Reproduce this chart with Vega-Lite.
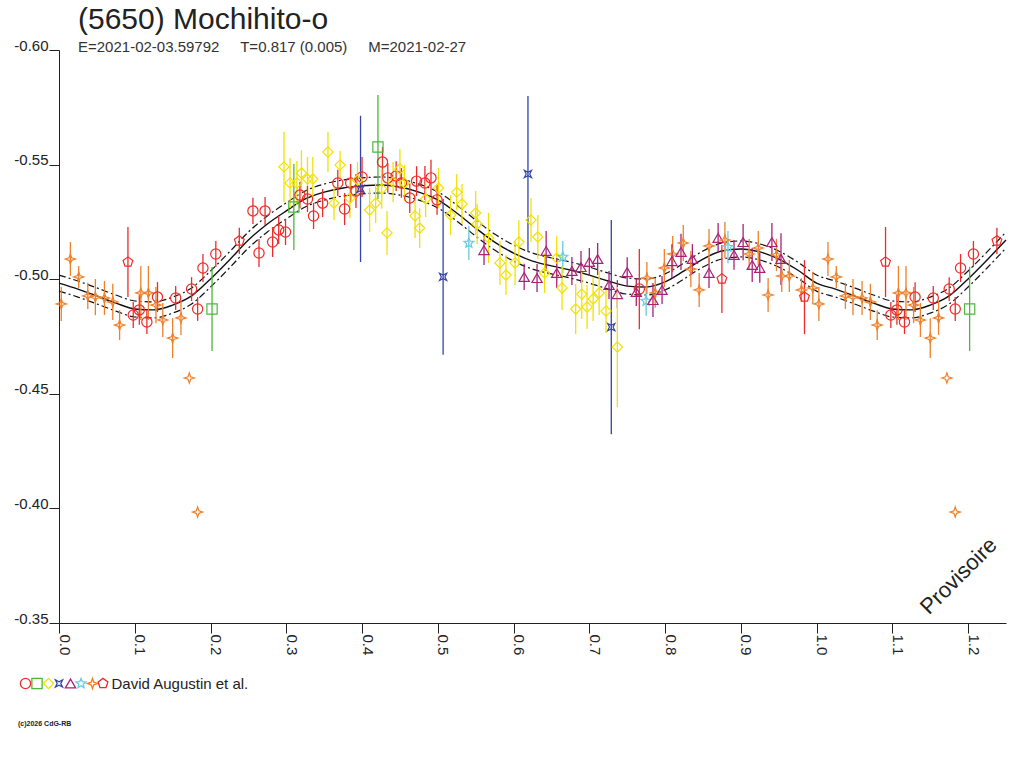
{
  "$schema": "https://vega.github.io/schema/vega-lite/v6.json",
  "width": 947,
  "height": 573,
  "autosize": {"type": "none"},
  "padding": {"left": 59, "top": 50, "right": 18, "bottom": 145},
  "background": "white",
  "title": {
    "text": "(5650) Mochihito-o",
    "subtitle": "E=2021-02-03.59792\u00a0\u00a0\u00a0\u00a0\u00a0T=0.817 (0.005)\u00a0\u00a0\u00a0\u00a0\u00a0M=2021-02-27",
    "anchor": "start",
    "frame": "group",
    "dx": 19,
    "offset": -17,
    "font": "Liberation Sans",
    "fontSize": 30,
    "fontWeight": "normal",
    "color": "#222222",
    "subtitleFont": "Liberation Sans",
    "subtitleFontSize": 15,
    "subtitleColor": "#333333",
    "subtitlePadding": 5
  },
  "config": {
    "view": {"stroke": null},
    "axis": {"grid": false}
  },
  "datasets": {
    "fit": [
      {"p": 0.000, "c": -0.4983, "u": -0.5018, "l": -0.4948},
      {"p": 0.025, "c": -0.4957, "u": -0.4992, "l": -0.4922},
      {"p": 0.050, "c": -0.4927, "u": -0.4962, "l": -0.4892},
      {"p": 0.075, "c": -0.4896, "u": -0.4931, "l": -0.4861},
      {"p": 0.100, "c": -0.4870, "u": -0.4905, "l": -0.4835},
      {"p": 0.125, "c": -0.4866, "u": -0.4901, "l": -0.4831},
      {"p": 0.150, "c": -0.4887, "u": -0.4922, "l": -0.4852},
      {"p": 0.175, "c": -0.4927, "u": -0.4962, "l": -0.4892},
      {"p": 0.200, "c": -0.5001, "u": -0.5036, "l": -0.4966},
      {"p": 0.225, "c": -0.5084, "u": -0.5119, "l": -0.5049},
      {"p": 0.250, "c": -0.5171, "u": -0.5206, "l": -0.5136},
      {"p": 0.275, "c": -0.5241, "u": -0.5276, "l": -0.5206},
      {"p": 0.300, "c": -0.5298, "u": -0.5333, "l": -0.5263},
      {"p": 0.325, "c": -0.5350, "u": -0.5385, "l": -0.5315},
      {"p": 0.350, "c": -0.5380, "u": -0.5415, "l": -0.5345},
      {"p": 0.375, "c": -0.5398, "u": -0.5433, "l": -0.5363},
      {"p": 0.400, "c": -0.5407, "u": -0.5442, "l": -0.5372},
      {"p": 0.425, "c": -0.5411, "u": -0.5446, "l": -0.5376},
      {"p": 0.450, "c": -0.5402, "u": -0.5437, "l": -0.5367},
      {"p": 0.475, "c": -0.5380, "u": -0.5415, "l": -0.5345},
      {"p": 0.500, "c": -0.5346, "u": -0.5381, "l": -0.5311},
      {"p": 0.525, "c": -0.5289, "u": -0.5324, "l": -0.5254},
      {"p": 0.550, "c": -0.5223, "u": -0.5258, "l": -0.5188},
      {"p": 0.575, "c": -0.5162, "u": -0.5197, "l": -0.5127},
      {"p": 0.600, "c": -0.5114, "u": -0.5149, "l": -0.5079},
      {"p": 0.625, "c": -0.5079, "u": -0.5114, "l": -0.5044},
      {"p": 0.650, "c": -0.5058, "u": -0.5093, "l": -0.5023},
      {"p": 0.675, "c": -0.5040, "u": -0.5075, "l": -0.5005},
      {"p": 0.700, "c": -0.5018, "u": -0.5053, "l": -0.4983},
      {"p": 0.725, "c": -0.4992, "u": -0.5027, "l": -0.4957},
      {"p": 0.750, "c": -0.4970, "u": -0.5005, "l": -0.4935},
      {"p": 0.775, "c": -0.4966, "u": -0.5001, "l": -0.4931},
      {"p": 0.800, "c": -0.4988, "u": -0.5023, "l": -0.4953},
      {"p": 0.825, "c": -0.5036, "u": -0.5071, "l": -0.5001},
      {"p": 0.850, "c": -0.5088, "u": -0.5123, "l": -0.5053},
      {"p": 0.875, "c": -0.5123, "u": -0.5158, "l": -0.5088},
      {"p": 0.900, "c": -0.5132, "u": -0.5167, "l": -0.5097},
      {"p": 0.925, "c": -0.5119, "u": -0.5154, "l": -0.5084},
      {"p": 0.950, "c": -0.5088, "u": -0.5123, "l": -0.5053},
      {"p": 0.975, "c": -0.5040, "u": -0.5075, "l": -0.5005},
      {"p": 1.000, "c": -0.4983, "u": -0.5018, "l": -0.4948},
      {"p": 1.025, "c": -0.4957, "u": -0.4992, "l": -0.4922},
      {"p": 1.050, "c": -0.4927, "u": -0.4962, "l": -0.4892},
      {"p": 1.075, "c": -0.4896, "u": -0.4931, "l": -0.4861},
      {"p": 1.100, "c": -0.4870, "u": -0.4905, "l": -0.4835},
      {"p": 1.125, "c": -0.4866, "u": -0.4901, "l": -0.4831},
      {"p": 1.150, "c": -0.4887, "u": -0.4922, "l": -0.4852},
      {"p": 1.175, "c": -0.4927, "u": -0.4962, "l": -0.4892},
      {"p": 1.200, "c": -0.5001, "u": -0.5036, "l": -0.4966},
      {"p": 1.225, "c": -0.5084, "u": -0.5119, "l": -0.5049},
      {"p": 1.250, "c": -0.5171, "u": -0.5206, "l": -0.5136}
    ],
    "obs": [
      {"p": 0.003, "m": -0.4892, "e": 0.0074, "s": "g"},
      {"p": 0.015, "m": -0.5088, "e": 0.0074, "s": "g"},
      {"p": 0.026, "m": -0.5010, "e": 0.0048, "s": "g"},
      {"p": 0.038, "m": -0.4927, "e": 0.0057, "s": "g"},
      {"p": 0.048, "m": -0.4922, "e": 0.0079, "s": "g"},
      {"p": 0.060, "m": -0.4918, "e": 0.0074, "s": "g"},
      {"p": 0.071, "m": -0.4901, "e": 0.0079, "s": "g"},
      {"p": 0.091, "m": -0.5075, "e": 0.0153, "s": "h"},
      {"p": 0.080, "m": -0.4800, "e": 0.0065, "s": "g"},
      {"p": 0.098, "m": -0.4844, "e": 0.0057, "s": "a"},
      {"p": 0.108, "m": -0.4940, "e": 0.0118, "s": "g"},
      {"p": 0.106, "m": -0.4866, "e": 0.0065, "s": "a"},
      {"p": 0.116, "m": -0.4813, "e": 0.0052, "s": "a"},
      {"p": 0.118, "m": -0.4940, "e": 0.0118, "s": "g"},
      {"p": 0.130, "m": -0.4922, "e": 0.0065, "s": "a"},
      {"p": 0.128, "m": -0.4887, "e": 0.0079, "s": "g"},
      {"p": 0.137, "m": -0.4822, "e": 0.0074, "s": "g"},
      {"p": 0.154, "m": -0.4918, "e": 0.0052, "s": "a"},
      {"p": 0.150, "m": -0.4743, "e": 0.0087, "s": "g"},
      {"p": 0.161, "m": -0.4831, "e": 0.0074, "s": "g"},
      {"p": 0.175, "m": -0.4957, "e": 0.0052, "s": "a"},
      {"p": 0.183, "m": -0.4870, "e": 0.0052, "s": "a"},
      {"p": 0.190, "m": -0.5049, "e": 0.0061, "s": "a"},
      {"p": 0.202, "m": -0.4870, "e": 0.0183, "s": "b"},
      {"p": 0.207, "m": -0.5110, "e": 0.0057, "s": "a"},
      {"p": 0.172, "m": -0.4569, "e": 0, "s": "g"},
      {"p": 0.183, "m": -0.3984, "e": 0, "s": "g"},
      {"p": 0.238, "m": -0.5167, "e": 0.0057, "s": "h"},
      {"p": 1.003, "m": -0.4892, "e": 0.0074, "s": "g"},
      {"p": 1.015, "m": -0.5088, "e": 0.0074, "s": "g"},
      {"p": 1.026, "m": -0.5010, "e": 0.0048, "s": "g"},
      {"p": 1.038, "m": -0.4927, "e": 0.0057, "s": "g"},
      {"p": 1.048, "m": -0.4922, "e": 0.0079, "s": "g"},
      {"p": 1.060, "m": -0.4918, "e": 0.0074, "s": "g"},
      {"p": 1.071, "m": -0.4901, "e": 0.0079, "s": "g"},
      {"p": 1.091, "m": -0.5075, "e": 0.0153, "s": "h"},
      {"p": 1.080, "m": -0.4800, "e": 0.0065, "s": "g"},
      {"p": 1.098, "m": -0.4844, "e": 0.0057, "s": "a"},
      {"p": 1.108, "m": -0.4940, "e": 0.0118, "s": "g"},
      {"p": 1.106, "m": -0.4866, "e": 0.0065, "s": "a"},
      {"p": 1.116, "m": -0.4813, "e": 0.0052, "s": "a"},
      {"p": 1.118, "m": -0.4940, "e": 0.0118, "s": "g"},
      {"p": 1.130, "m": -0.4922, "e": 0.0065, "s": "a"},
      {"p": 1.128, "m": -0.4887, "e": 0.0079, "s": "g"},
      {"p": 1.137, "m": -0.4822, "e": 0.0074, "s": "g"},
      {"p": 1.154, "m": -0.4918, "e": 0.0052, "s": "a"},
      {"p": 1.150, "m": -0.4743, "e": 0.0087, "s": "g"},
      {"p": 1.161, "m": -0.4831, "e": 0.0074, "s": "g"},
      {"p": 1.175, "m": -0.4957, "e": 0.0052, "s": "a"},
      {"p": 1.183, "m": -0.4870, "e": 0.0052, "s": "a"},
      {"p": 1.190, "m": -0.5049, "e": 0.0061, "s": "a"},
      {"p": 1.202, "m": -0.4870, "e": 0.0183, "s": "b"},
      {"p": 1.207, "m": -0.5110, "e": 0.0057, "s": "a"},
      {"p": 1.172, "m": -0.4569, "e": 0, "s": "g"},
      {"p": 1.183, "m": -0.3984, "e": 0, "s": "g"},
      {"p": 1.238, "m": -0.5167, "e": 0.0057, "s": "h"},
      {"p": 0.256, "m": -0.5298, "e": 0.0057, "s": "a"},
      {"p": 0.272, "m": -0.5298, "e": 0.0061, "s": "a"},
      {"p": 0.264, "m": -0.5114, "e": 0.0061, "s": "a"},
      {"p": 0.282, "m": -0.5162, "e": 0.0065, "s": "a"},
      {"p": 0.290, "m": -0.5215, "e": 0.0061, "s": "a"},
      {"p": 0.299, "m": -0.5206, "e": 0.0057, "s": "a"},
      {"p": 0.297, "m": -0.5490, "e": 0.0153, "s": "c"},
      {"p": 0.305, "m": -0.5420, "e": 0.0109, "s": "c"},
      {"p": 0.310, "m": -0.5315, "e": 0.0188, "s": "b"},
      {"p": 0.314, "m": -0.5420, "e": 0.0096, "s": "c"},
      {"p": 0.320, "m": -0.5463, "e": 0.0100, "s": "c"},
      {"p": 0.328, "m": -0.5437, "e": 0.0096, "s": "c"},
      {"p": 0.335, "m": -0.5437, "e": 0.0096, "s": "c"},
      {"p": 0.318, "m": -0.5367, "e": 0.0057, "s": "a"},
      {"p": 0.328, "m": -0.5350, "e": 0.0057, "s": "a"},
      {"p": 0.336, "m": -0.5276, "e": 0.0057, "s": "a"},
      {"p": 0.348, "m": -0.5332, "e": 0.0061, "s": "a"},
      {"p": 0.355, "m": -0.5555, "e": 0.0087, "s": "c"},
      {"p": 0.363, "m": -0.5332, "e": 0.0074, "s": "c"},
      {"p": 0.368, "m": -0.5420, "e": 0.0057, "s": "a"},
      {"p": 0.371, "m": -0.5498, "e": 0.0061, "s": "c"},
      {"p": 0.377, "m": -0.5306, "e": 0.0070, "s": "a"},
      {"p": 0.385, "m": -0.5420, "e": 0.0083, "s": "a"},
      {"p": 0.384, "m": -0.5354, "e": 0.0087, "s": "c"},
      {"p": 0.392, "m": -0.5385, "e": 0.0074, "s": "a"},
      {"p": 0.398, "m": -0.5394, "e": 0.0319, "s": "d"},
      {"p": 0.400, "m": -0.5446, "e": 0.0087, "s": "a"},
      {"p": 0.394, "m": -0.5433, "e": 0.0079, "s": "c"},
      {"p": 0.421, "m": -0.5577, "e": 0.0227, "s": "b"},
      {"p": 0.427, "m": -0.5511, "e": 0.0065, "s": "a"},
      {"p": 0.410, "m": -0.5302, "e": 0.0096, "s": "c"},
      {"p": 0.418, "m": -0.5332, "e": 0.0087, "s": "c"},
      {"p": 0.426, "m": -0.5394, "e": 0.0087, "s": "c"},
      {"p": 0.433, "m": -0.5202, "e": 0.0096, "s": "c"},
      {"p": 0.434, "m": -0.5442, "e": 0.0065, "s": "a"},
      {"p": 0.445, "m": -0.5450, "e": 0.0065, "s": "a"},
      {"p": 0.441, "m": -0.5424, "e": 0.0087, "s": "c"},
      {"p": 0.450, "m": -0.5481, "e": 0.0087, "s": "c"},
      {"p": 0.452, "m": -0.5420, "e": 0.0065, "s": "a"},
      {"p": 0.456, "m": -0.5420, "e": 0.0079, "s": "c"},
      {"p": 0.463, "m": -0.5354, "e": 0.0065, "s": "a"},
      {"p": 0.470, "m": -0.5276, "e": 0.0096, "s": "c"},
      {"p": 0.476, "m": -0.5223, "e": 0.0087, "s": "c"},
      {"p": 0.472, "m": -0.5428, "e": 0.0065, "s": "a"},
      {"p": 0.483, "m": -0.5420, "e": 0.0074, "s": "a"},
      {"p": 0.484, "m": -0.5350, "e": 0.0079, "s": "c"},
      {"p": 0.491, "m": -0.5442, "e": 0.0079, "s": "a"},
      {"p": 0.499, "m": -0.5346, "e": 0.0065, "s": "a"},
      {"p": 0.501, "m": -0.5398, "e": 0.0087, "s": "c"},
      {"p": 0.517, "m": -0.5280, "e": 0.0087, "s": "c"},
      {"p": 0.525, "m": -0.5380, "e": 0.0079, "s": "c"},
      {"p": 0.532, "m": -0.5328, "e": 0.0087, "s": "c"},
      {"p": 0.507, "m": -0.5010, "e": 0.0340, "s": "d"},
      {"p": 0.550, "m": -0.5289, "e": 0.0096, "s": "c"},
      {"p": 0.552, "m": -0.5241, "e": 0.0087, "s": "c"},
      {"p": 0.541, "m": -0.5158, "e": 0.0074, "s": "f"},
      {"p": 0.561, "m": -0.5127, "e": 0.0065, "s": "e"},
      {"p": 0.567, "m": -0.5180, "e": 0.0109, "s": "c"},
      {"p": 0.582, "m": -0.5071, "e": 0.0096, "s": "c"},
      {"p": 0.590, "m": -0.5018, "e": 0.0087, "s": "c"},
      {"p": 0.602, "m": -0.5071, "e": 0.0096, "s": "c"},
      {"p": 0.607, "m": -0.5162, "e": 0.0096, "s": "c"},
      {"p": 0.619, "m": -0.5459, "e": 0.0340, "s": "d"},
      {"p": 0.623, "m": -0.5258, "e": 0.0096, "s": "c"},
      {"p": 0.614, "m": -0.5010, "e": 0.0057, "s": "e"},
      {"p": 0.632, "m": -0.5184, "e": 0.0096, "s": "c"},
      {"p": 0.631, "m": -0.5005, "e": 0.0061, "s": "e"},
      {"p": 0.641, "m": -0.5027, "e": 0.0087, "s": "c"},
      {"p": 0.643, "m": -0.5123, "e": 0.0087, "s": "e"},
      {"p": 0.657, "m": -0.5092, "e": 0.0096, "s": "c"},
      {"p": 0.657, "m": -0.5027, "e": 0.0065, "s": "e"},
      {"p": 0.665, "m": -0.5097, "e": 0.0070, "s": "f"},
      {"p": 0.664, "m": -0.4962, "e": 0.0096, "s": "c"},
      {"p": 0.677, "m": -0.5036, "e": 0.0061, "s": "e"},
      {"p": 0.689, "m": -0.5053, "e": 0.0070, "s": "e"},
      {"p": 0.682, "m": -0.4870, "e": 0.0109, "s": "c"},
      {"p": 0.690, "m": -0.4935, "e": 0.0109, "s": "c"},
      {"p": 0.700, "m": -0.5075, "e": 0.0061, "s": "e"},
      {"p": 0.697, "m": -0.4879, "e": 0.0096, "s": "c"},
      {"p": 0.705, "m": -0.4914, "e": 0.0096, "s": "c"},
      {"p": 0.711, "m": -0.5088, "e": 0.0070, "s": "e"},
      {"p": 0.713, "m": -0.4940, "e": 0.0096, "s": "c"},
      {"p": 0.722, "m": -0.4861, "e": 0.0096, "s": "c"},
      {"p": 0.726, "m": -0.4975, "e": 0.0061, "s": "e"},
      {"p": 0.729, "m": -0.4791, "e": 0.0467, "s": "d"},
      {"p": 0.737, "m": -0.4935, "e": 0.0061, "s": "e"},
      {"p": 0.737, "m": -0.4704, "e": 0.0262, "s": "c"},
      {"p": 0.750, "m": -0.5031, "e": 0.0065, "s": "e"},
      {"p": 0.766, "m": -0.4957, "e": 0.0175, "s": "a"},
      {"p": 0.762, "m": -0.4944, "e": 0.0061, "s": "e"},
      {"p": 0.775, "m": -0.4905, "e": 0.0065, "s": "f"},
      {"p": 0.784, "m": -0.4909, "e": 0.0074, "s": "e"},
      {"p": 0.776, "m": -0.5005, "e": 0.0070, "s": "g"},
      {"p": 0.787, "m": -0.4940, "e": 0.0065, "s": "g"},
      {"p": 0.796, "m": -0.4953, "e": 0.0061, "s": "e"},
      {"p": 0.799, "m": -0.5049, "e": 0.0083, "s": "g"},
      {"p": 0.810, "m": -0.5110, "e": 0.0079, "s": "g"},
      {"p": 0.809, "m": -0.5079, "e": 0.0074, "s": "e"},
      {"p": 0.821, "m": -0.5119, "e": 0.0079, "s": "e"},
      {"p": 0.824, "m": -0.5158, "e": 0.0079, "s": "g"},
      {"p": 0.836, "m": -0.5088, "e": 0.0065, "s": "e"},
      {"p": 0.834, "m": -0.5044, "e": 0.0079, "s": "g"},
      {"p": 0.845, "m": -0.4953, "e": 0.0074, "s": "g"},
      {"p": 0.858, "m": -0.5027, "e": 0.0065, "s": "e"},
      {"p": 0.858, "m": -0.5145, "e": 0.0074, "s": "g"},
      {"p": 0.870, "m": -0.5180, "e": 0.0065, "s": "e"},
      {"p": 0.879, "m": -0.5171, "e": 0.0079, "s": "g"},
      {"p": 0.883, "m": -0.5140, "e": 0.0070, "s": "f"},
      {"p": 0.875, "m": -0.5001, "e": 0.0148, "s": "h"},
      {"p": 0.891, "m": -0.5106, "e": 0.0065, "s": "e"},
      {"p": 0.903, "m": -0.5162, "e": 0.0079, "s": "e"},
      {"p": 0.911, "m": -0.5110, "e": 0.0065, "s": "g"},
      {"p": 0.915, "m": -0.5062, "e": 0.0074, "s": "e"},
      {"p": 0.923, "m": -0.5136, "e": 0.0074, "s": "g"},
      {"p": 0.925, "m": -0.5049, "e": 0.0065, "s": "e"},
      {"p": 0.941, "m": -0.5162, "e": 0.0083, "s": "e"},
      {"p": 0.947, "m": -0.5106, "e": 0.0070, "s": "g"},
      {"p": 0.953, "m": -0.5088, "e": 0.0113, "s": "e"},
      {"p": 0.954, "m": -0.5014, "e": 0.0070, "s": "g"},
      {"p": 0.964, "m": -0.5014, "e": 0.0070, "s": "g"},
      {"p": 0.936, "m": -0.4931, "e": 0.0074, "s": "g"},
      {"p": 0.980, "m": -0.4953, "e": 0.0052, "s": "g"},
      {"p": 0.984, "m": -0.4922, "e": 0.0161, "s": "h"},
      {"p": 0.995, "m": -0.4962, "e": 0.0070, "s": "g"}
    ]
  },
  "layer": [
    {
      "data": {"name": "fit"},
      "mark": {"type": "line", "color": "#111111", "strokeWidth": 1.4, "interpolate": "monotone"},
      "encoding": {
        "x": {
          "field": "p", "type": "quantitative", "title": null,
          "scale": {"domain": [0, 1.25], "nice": false, "zero": false},
          "axis": {
            "values": [0, 0.05, 0.1, 0.15, 0.2, 0.25, 0.3, 0.35, 0.4, 0.45, 0.5, 0.55, 0.6, 0.65, 0.7, 0.75, 0.8, 0.85, 0.9, 0.95, 1.0, 1.05, 1.1, 1.15, 1.2, 1.25],
            "labelExpr": "abs(datum.value*10 - round(datum.value*10)) < 0.001 ? format(datum.value, '.1f') : ''",
            "labelAngle": 90,
            "labelAlign": "left",
            "labelBaseline": "alphabetic",
            "labelFont": "Liberation Sans",
            "labelFontSize": 15,
            "labelColor": "#222222",
            "labelPadding": 1,
            "labelFlush": false,
            "labelOverlap": false,
            "labelBound": false,
            "tickSize": {"condition": {"test": "abs(datum.value*10 - round(datum.value*10)) < 0.001", "value": 10}, "value": 8},
            "tickColor": "#222222",
            "domainColor": "#222222",
            "tickWidth": 1,
            "domainWidth": 1
          }
        },
        "y": {
          "field": "c", "type": "quantitative", "title": null,
          "scale": {"domain": [-0.6, -0.35], "reverse": true, "nice": false, "zero": false},
          "axis": {
            "values": [-0.6, -0.55, -0.5, -0.45, -0.4, -0.35],
            "labelExpr": "'-' + format(abs(datum.value), '.2f')",
            "labelFont": "Liberation Sans",
            "labelFontSize": 15,
            "labelColor": "#222222",
            "labelBaseline": "alphabetic",
            "labelPadding": 1,
            "labelFlush": false,
            "labelOverlap": false,
            "tickSize": 10,
            "tickColor": "#222222",
            "domainColor": "#222222",
            "tickWidth": 1,
            "domainWidth": 1
          }
        }
      }
    },
    {
      "data": {"name": "fit"},
      "mark": {"type": "line", "color": "#111111", "strokeWidth": 1.2, "strokeDash": [7, 3, 2, 3], "interpolate": "monotone"},
      "encoding": {
        "x": {"field": "p", "type": "quantitative", "title": null},
        "y": {"field": "u", "type": "quantitative", "title": null}
      }
    },
    {
      "data": {"name": "fit"},
      "mark": {"type": "line", "color": "#111111", "strokeWidth": 1.2, "strokeDash": [7, 3, 2, 3], "interpolate": "monotone"},
      "encoding": {
        "x": {"field": "p", "type": "quantitative", "title": null},
        "y": {"field": "l", "type": "quantitative", "title": null}
      }
    },
    {
      "data": {"name": "obs"},
      "mark": {"type": "errorbar", "thickness": 1.3},
      "encoding": {
        "x": {"field": "p", "type": "quantitative", "title": null},
        "y": {"field": "m", "type": "quantitative", "title": null},
        "yError": {"field": "e"},
        "color": {
          "field": "s", "type": "nominal",
          "scale": {"domain": ["a", "b", "c", "d", "e", "f", "g", "h"], "range": ["#ee2b2b", "#4cb83a", "#f2e200", "#3344aa", "#aa2277", "#66ccdd", "#f0802a", "#ee2b2b"]}
        }
      }
    },
    {
      "data": {"name": "obs"},
      "mark": {"type": "point", "filled": false, "size": 105, "strokeWidth": 1.2, "opacity": 1},
      "encoding": {
        "x": {"field": "p", "type": "quantitative", "title": null},
        "y": {"field": "m", "type": "quantitative", "title": null},
        "color": {
          "field": "s", "type": "nominal",
          "scale": {"domain": ["a", "b", "c", "d", "e", "f", "g", "h"], "range": ["#ee2b2b", "#4cb83a", "#f2e200", "#3344aa", "#aa2277", "#66ccdd", "#f0802a", "#ee2b2b"]},
          "legend": {
            "title": "(c)2026 CdG-RB",
            "orient": "none", "legendX": -41, "legendY": 626,
            "direction": "horizontal", "columns": 8, "columnPadding": -5.5, "rowPadding": 0, "padding": 0,
            "gridAlign": "none",
            "labelExpr": "datum.value == 'h' ? '\u00a0\u00a0David Augustin et al.' : ''",
            "labelFont": "Liberation Sans", "labelFontSize": 15, "labelColor": "#222222", "labelOffset": 1, "labelLimit": 400,
            "symbolSize": 105, "symbolStrokeWidth": 1.3,
            "titleOrient": "bottom", "titleAnchor": "start", "titleFont": "Liberation Sans", "titleFontSize": 7, "titleFontWeight": "bold", "titleColor": "#222222", "titlePadding": 28
          }
        },
        "shape": {
          "field": "s", "type": "nominal",
          "scale": {"domain": ["a", "b", "c", "d", "e", "f", "g", "h"], "range": [
            "circle", "square", "diamond",
            "M-0.7,-0.7L0,-0.35L0.7,-0.7L0.35,0L0.7,0.7L0,0.35L-0.7,0.7L-0.35,0Z",
            "triangle-up",
            "M0,-1L0.265,-0.364L0.951,-0.309L0.428,0.139L0.588,0.809L0,0.45L-0.588,0.809L-0.428,0.139L-0.951,-0.309L-0.265,-0.364Z",
            "M0,-1L0.25,-0.25L1,0L0.25,0.25L0,1L-0.25,0.25L-1,0L-0.25,-0.25Z",
            "M0,-1L0.951,-0.309L0.588,0.809L-0.588,0.809L-0.951,-0.309Z"
          ]},
          "legend": {
            "title": "(c)2026 CdG-RB",
            "orient": "none", "legendX": -41, "legendY": 626,
            "direction": "horizontal", "columns": 8, "columnPadding": -5.5, "rowPadding": 0, "padding": 0,
            "gridAlign": "none",
            "labelExpr": "datum.value == 'h' ? '\u00a0\u00a0David Augustin et al.' : ''",
            "labelFont": "Liberation Sans", "labelFontSize": 15, "labelColor": "#222222", "labelOffset": 1, "labelLimit": 400,
            "symbolSize": 105, "symbolStrokeWidth": 1.3,
            "titleOrient": "bottom", "titleAnchor": "start", "titleFont": "Liberation Sans", "titleFontSize": 7, "titleFontWeight": "bold", "titleColor": "#222222", "titlePadding": 28
          }
        }
      }
    },
    {
      "data": {"values": [{"p": 1.1876, "m": -0.3705, "t": "Provisoire"}]},
      "mark": {"type": "text", "angle": -45, "align": "center", "baseline": "middle", "font": "Liberation Sans", "fontSize": 22, "color": "#222222"},
      "encoding": {
        "x": {"field": "p", "type": "quantitative", "title": null},
        "y": {"field": "m", "type": "quantitative", "title": null},
        "text": {"field": "t"}
      }
    }
  ]
}
